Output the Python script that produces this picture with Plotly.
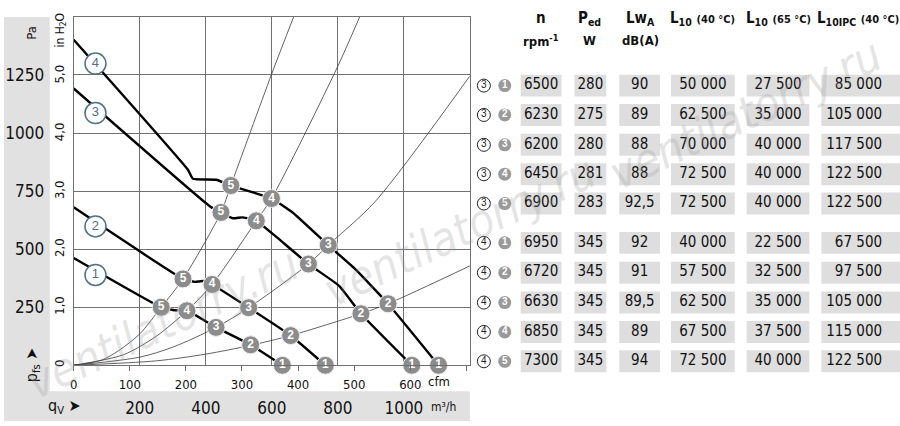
import plotly.graph_objects as go

W, H = 900, 426
NARROW = "DejaVu Sans Condensed, Liberation Sans Narrow, Arial Narrow, sans-serif"
GRID = "#707070"

# operating curves, q_V in m3/h, p_fs in Pa
c1_q = [0, 265, 305, 343, 431, 536, 632]
c1_p = [462, 250, 237, 235, 163, 88, 0]
c2_q = [0, 331, 367, 392, 419, 530, 657, 762]
c2_p = [680, 372, 359, 363, 348, 248, 128, 0]
c3_q = [0, 413, 446, 482, 512, 553, 611, 711, 804, 870, 1024]
c3_p = [1192, 684, 658, 633, 637, 622, 556, 436, 342, 222, 0]
c4_q = [0, 346, 361, 431, 476, 599, 663, 771, 852, 952, 1105]
c4_p = [1402, 842, 803, 799, 774, 718, 658, 517, 415, 265, 0]

# operating points 1..5 on each curve
m_labels = ["1", "2", "3", "4", "5"]
c1_mq = [632, 536, 431, 343, 265]
c1_mp = [0, 88, 163, 235, 250]
c2_mq = [762, 657, 530, 419, 331]
c2_mp = [0, 128, 248, 348, 372]
c3_mq = [1024, 870, 711, 553, 446]
c3_mp = [0, 222, 436, 622, 658]
c4_mq = [1105, 952, 771, 599, 476]
c4_mp = [0, 265, 517, 718, 774]

# curve name circles
lab_q = [66, 66, 66, 66]
lab_p = [389, 598, 1086, 1299]
lab_t = ["1", "2", "3", "4"]

# system curves through operating points 2..5
s2_q = [0, 250, 400, 536, 657, 870, 952, 1200]
s2_p = [0, 19, 48, 86, 128, 222, 265, 428]
s3_q = [0, 200, 300, 431, 530, 711, 771, 913, 1199]
s3_p = [0, 35, 78, 163, 248, 436, 517, 705, 1244]
s4_q = [0, 150, 250, 343, 419, 553, 599, 798, 866]
s4_p = [0, 45, 125, 235, 348, 622, 718, 1282, 1500]
s5_q = [0, 84, 136, 200, 265, 331, 446, 476, 599, 666]
s5_p = [0, 22, 63, 135, 250, 372, 658, 774, 1252, 1500]

pa_ticks = [250, 500, 750, 1000, 1250]
m3h_ticks = [200, 400, 600, 800, 1000]
cfm_ticks = [0, 100, 200, 300, 400, 500, 600, 700]
cfm_text = ["0", "100", "200", "300", "400", "500", "600", ""]
inh2o_ticks = [0, 1, 2, 3, 4, 5]
inh2o_text = ["0", "1,0", "2,0", "3,0", "4,0", "5,0"]

# table
row_curve = ["3"] * 5 + ["4"] * 5
row_point = ["1", "2", "3", "4", "5"] * 2
n_rpm = ["6500", "6230", "6200", "6450", "6900", "6950", "6720", "6630", "6850", "7300"]
p_ed = ["280", "275", "280", "281", "283", "345", "345", "345", "345", "345"]
lw_a = ["90", "89", "88", "88", "92,5", "92", "91", "89,5", "89", "94"]
l10_40 = ["50 000", "62 500", "70 000", "72 500", "72 500",
          "40 000", "57 500", "62 500", "67 500", "72 500"]
l10_65 = ["27 500", "35 000", "40 000", "40 000", "40 000",
          "22 500", "32 500", "35 000", "37 500", "40 000"]
l10_ipc = ["85 000", "105 000", "117 500", "122 500", "122 500",
           "67 500", "97 500", "105 000", "115 000", "122 500"]

fig = go.Figure()

for q, p in [(s2_q, s2_p), (s3_q, s3_p), (s4_q, s4_p), (s5_q, s5_p)]:
    fig.add_trace(go.Scatter(x=q, y=p, mode="lines", hoverinfo="skip",
                             line=dict(color="#3a3a3a", width=0.8, shape="spline", smoothing=0.8)))

for q, p in [(c1_q, c1_p), (c2_q, c2_p), (c3_q, c3_p), (c4_q, c4_p)]:
    fig.add_trace(go.Scatter(x=q, y=p, mode="lines",
                             line=dict(color="black", width=2.4, shape="spline", smoothing=0.4)))

for q, p in [(c1_mq, c1_mp), (c2_mq, c2_mp), (c3_mq, c3_mp), (c4_mq, c4_mp)]:
    fig.add_trace(go.Scatter(x=q, y=p, mode="markers+text", text=m_labels, cliponaxis=False,
                             marker=dict(size=18, color="#8c8c8c", line=dict(color="#f0f0f0", width=1)),
                             textfont=dict(color="white", size=12, family="Liberation Sans", weight="bold")))

fig.add_trace(go.Scatter(x=lab_q, y=lab_p, mode="markers+text", text=lab_t,
                         marker=dict(size=21, color="white", line=dict(color="#4f7189", width=1.5)),
                         textfont=dict(color="#4f7189", size=13, family="Liberation Sans")))

# empty traces so the secondary scales are built
fig.add_trace(go.Scatter(x=[], y=[], xaxis="x2", yaxis="y"))
fig.add_trace(go.Scatter(x=[], y=[], xaxis="x", yaxis="y2"))

# table on its own pixel-like axes
col_left = [519, 573, 618, 670, 746, 821]
col_right = [560, 605, 659, 734, 809, 900]
row_y = [86, 115.5, 145.5, 175, 204.5, 244, 274, 304, 333.5, 363]
columns = [n_rpm, p_ed, lw_a, l10_40, l10_65, l10_ipc]

shapes = []
for r in row_y:
    for a, b in zip(col_left, col_right):
        shapes.append(dict(type="rect", xref="x3", yref="y3", x0=a, x1=b, y0=r - 11, y1=r + 11,
                           fillcolor="#dedede", line=dict(width=0), layer="below"))

for i, col in enumerate(columns):
    if i == 5:
        xs, pos = [col_right[i] - 18] * len(row_y), "middle left"
    else:
        xs, pos = [(col_left[i] + col_right[i]) / 2] * len(row_y), "middle center"
    fig.add_trace(go.Scatter(x=xs, y=row_y, xaxis="x3", yaxis="y3", mode="text", text=col,
                             textposition=pos, textfont=dict(size=15, family=NARROW, color="#111")))

fig.add_trace(go.Scatter(x=[482] * len(row_y), y=row_y, xaxis="x3", yaxis="y3", mode="markers+text",
                         text=row_curve, marker=dict(size=13, color="white", line=dict(color="#222", width=1)),
                         textfont=dict(size=10, color="#222", family="Liberation Sans")))
fig.add_trace(go.Scatter(x=[503] * len(row_y), y=row_y, xaxis="x3", yaxis="y3", mode="markers+text",
                         text=row_point, marker=dict(size=13, color="#9a9a9a"),
                         textfont=dict(size=10, color="white", family="Liberation Sans", weight="bold")))

# gray label bands
shapes.append(dict(type="rect", xref="paper", yref="paper", x0=0, x1=46 / W, y0=3 / H, y1=409 / H,
                   fillcolor="#e1e1e1", line=dict(width=0), layer="below"))
shapes.append(dict(type="rect", xref="paper", yref="paper", x0=0, x1=468 / W, y0=3 / H, y1=33 / H,
                   fillcolor="#e1e1e1", line=dict(width=0), layer="below"))


def ann(x, y, text, size=13, angle=0, bold=False, color="#111", **kw):
    return dict(x=x / W, y=1 - y / H, xref="paper", yref="paper", text=text, showarrow=False,
                xanchor="center", yanchor="middle", textangle=angle,
                font=dict(size=size, family=NARROW, color=color, weight="bold" if bold else "normal"), **kw)


small = "<span style='font-size:11px'>(%s °C)</span>"
annotations = [
    ann(28, 33, "Pa", 13, -90),
    ann(57, 30, "in H<sub>2</sub>O", 12, -90),
    ann(28, 366, "p<sub>fs</sub> ➤", 16, -90),
    ann(61, 408, "q<sub>V</sub> ➤", 16),
    ann(441, 409, "m³/h", 12),
    ann(437, 383, "cfm", 13),
    ann(539, 18, "n", 15, bold=True),
    ann(539, 41, "rpm<sup>-1</sup>", 13, bold=True),
    ann(588, 19, "P<sub>ed</sub>", 15, bold=True),
    ann(588, 41, "W", 13, bold=True),
    ann(639, 19, "Lw<sub>A</sub>", 15, bold=True),
    ann(639, 41, "dB(A)", 13, bold=True),
    ann(702, 19, "L<sub>10</sub> " + small % "40", 15, bold=True),
    ann(778, 19, "L<sub>10</sub> " + small % "65", 15, bold=True),
    ann(858, 19, "L<sub>10IPC</sub> " + small % "40", 15, bold=True),
]
for cx, cy in [(160, 325), (458, 232), (745, 115)]:
    a = ann(cx, cy, "ventilatorry.ru", 46, -25, color="rgba(150,150,150,0.25)")
    a["font"]["style"] = "italic"
    annotations.append(a)

fig.update_layout(
    width=W, height=H, margin=dict(l=0, r=0, t=0, b=0),
    paper_bgcolor="white", plot_bgcolor="rgba(0,0,0,0)", showlegend=False,
    xaxis=dict(domain=[70 / W, 468 / W], range=[0, 1200], tickvals=m3h_ticks, anchor="y",
               showgrid=True, gridcolor=GRID, gridwidth=1, showline=True, linecolor=GRID, mirror=True,
               zeroline=False, ticks="", ticklabelstandoff=27,
               tickfont=dict(size=17, family=NARROW, color="#111")),
    xaxis2=dict(overlaying="x", anchor="y", side="bottom", range=[0, 1200 / 1.699],
                tickvals=cfm_ticks, ticktext=cfm_text, ticks="outside", ticklen=5, tickcolor=GRID,
                showgrid=False, showline=False, zeroline=False, ticklabelstandoff=2,
                tickfont=dict(size=13, family=NARROW, color="#111")),
    yaxis=dict(domain=[59 / H, 409 / H], range=[0, 1500], tickvals=pa_ticks, anchor="x",
               showgrid=True, gridcolor=GRID, gridwidth=1, showline=True, linecolor=GRID, mirror=True,
               zeroline=False, ticks="", ticklabelstandoff=25,
               tickfont=dict(size=17, family=NARROW, color="#111")),
    yaxis2=dict(overlaying="y", anchor="free", position=70 / W, side="left", range=[0, 1500 / 249.09],
                tickvals=inh2o_ticks, ticktext=inh2o_text, tickangle=-90, showgrid=False, showline=False,
                zeroline=False, ticks="", ticklabelstandoff=7,
                tickfont=dict(size=13, family=NARROW, color="#111")),
    xaxis3=dict(domain=[470 / W, 1], range=[470, 900], visible=False, anchor="y3", fixedrange=True),
    yaxis3=dict(domain=[0, 1], range=[426, 0], visible=False, anchor="x3", fixedrange=True),
    shapes=shapes, annotations=annotations,
)

fig.write_html("out.html", config={"displayModeBar": False},
               post_script="document.body.style.margin='0';")
